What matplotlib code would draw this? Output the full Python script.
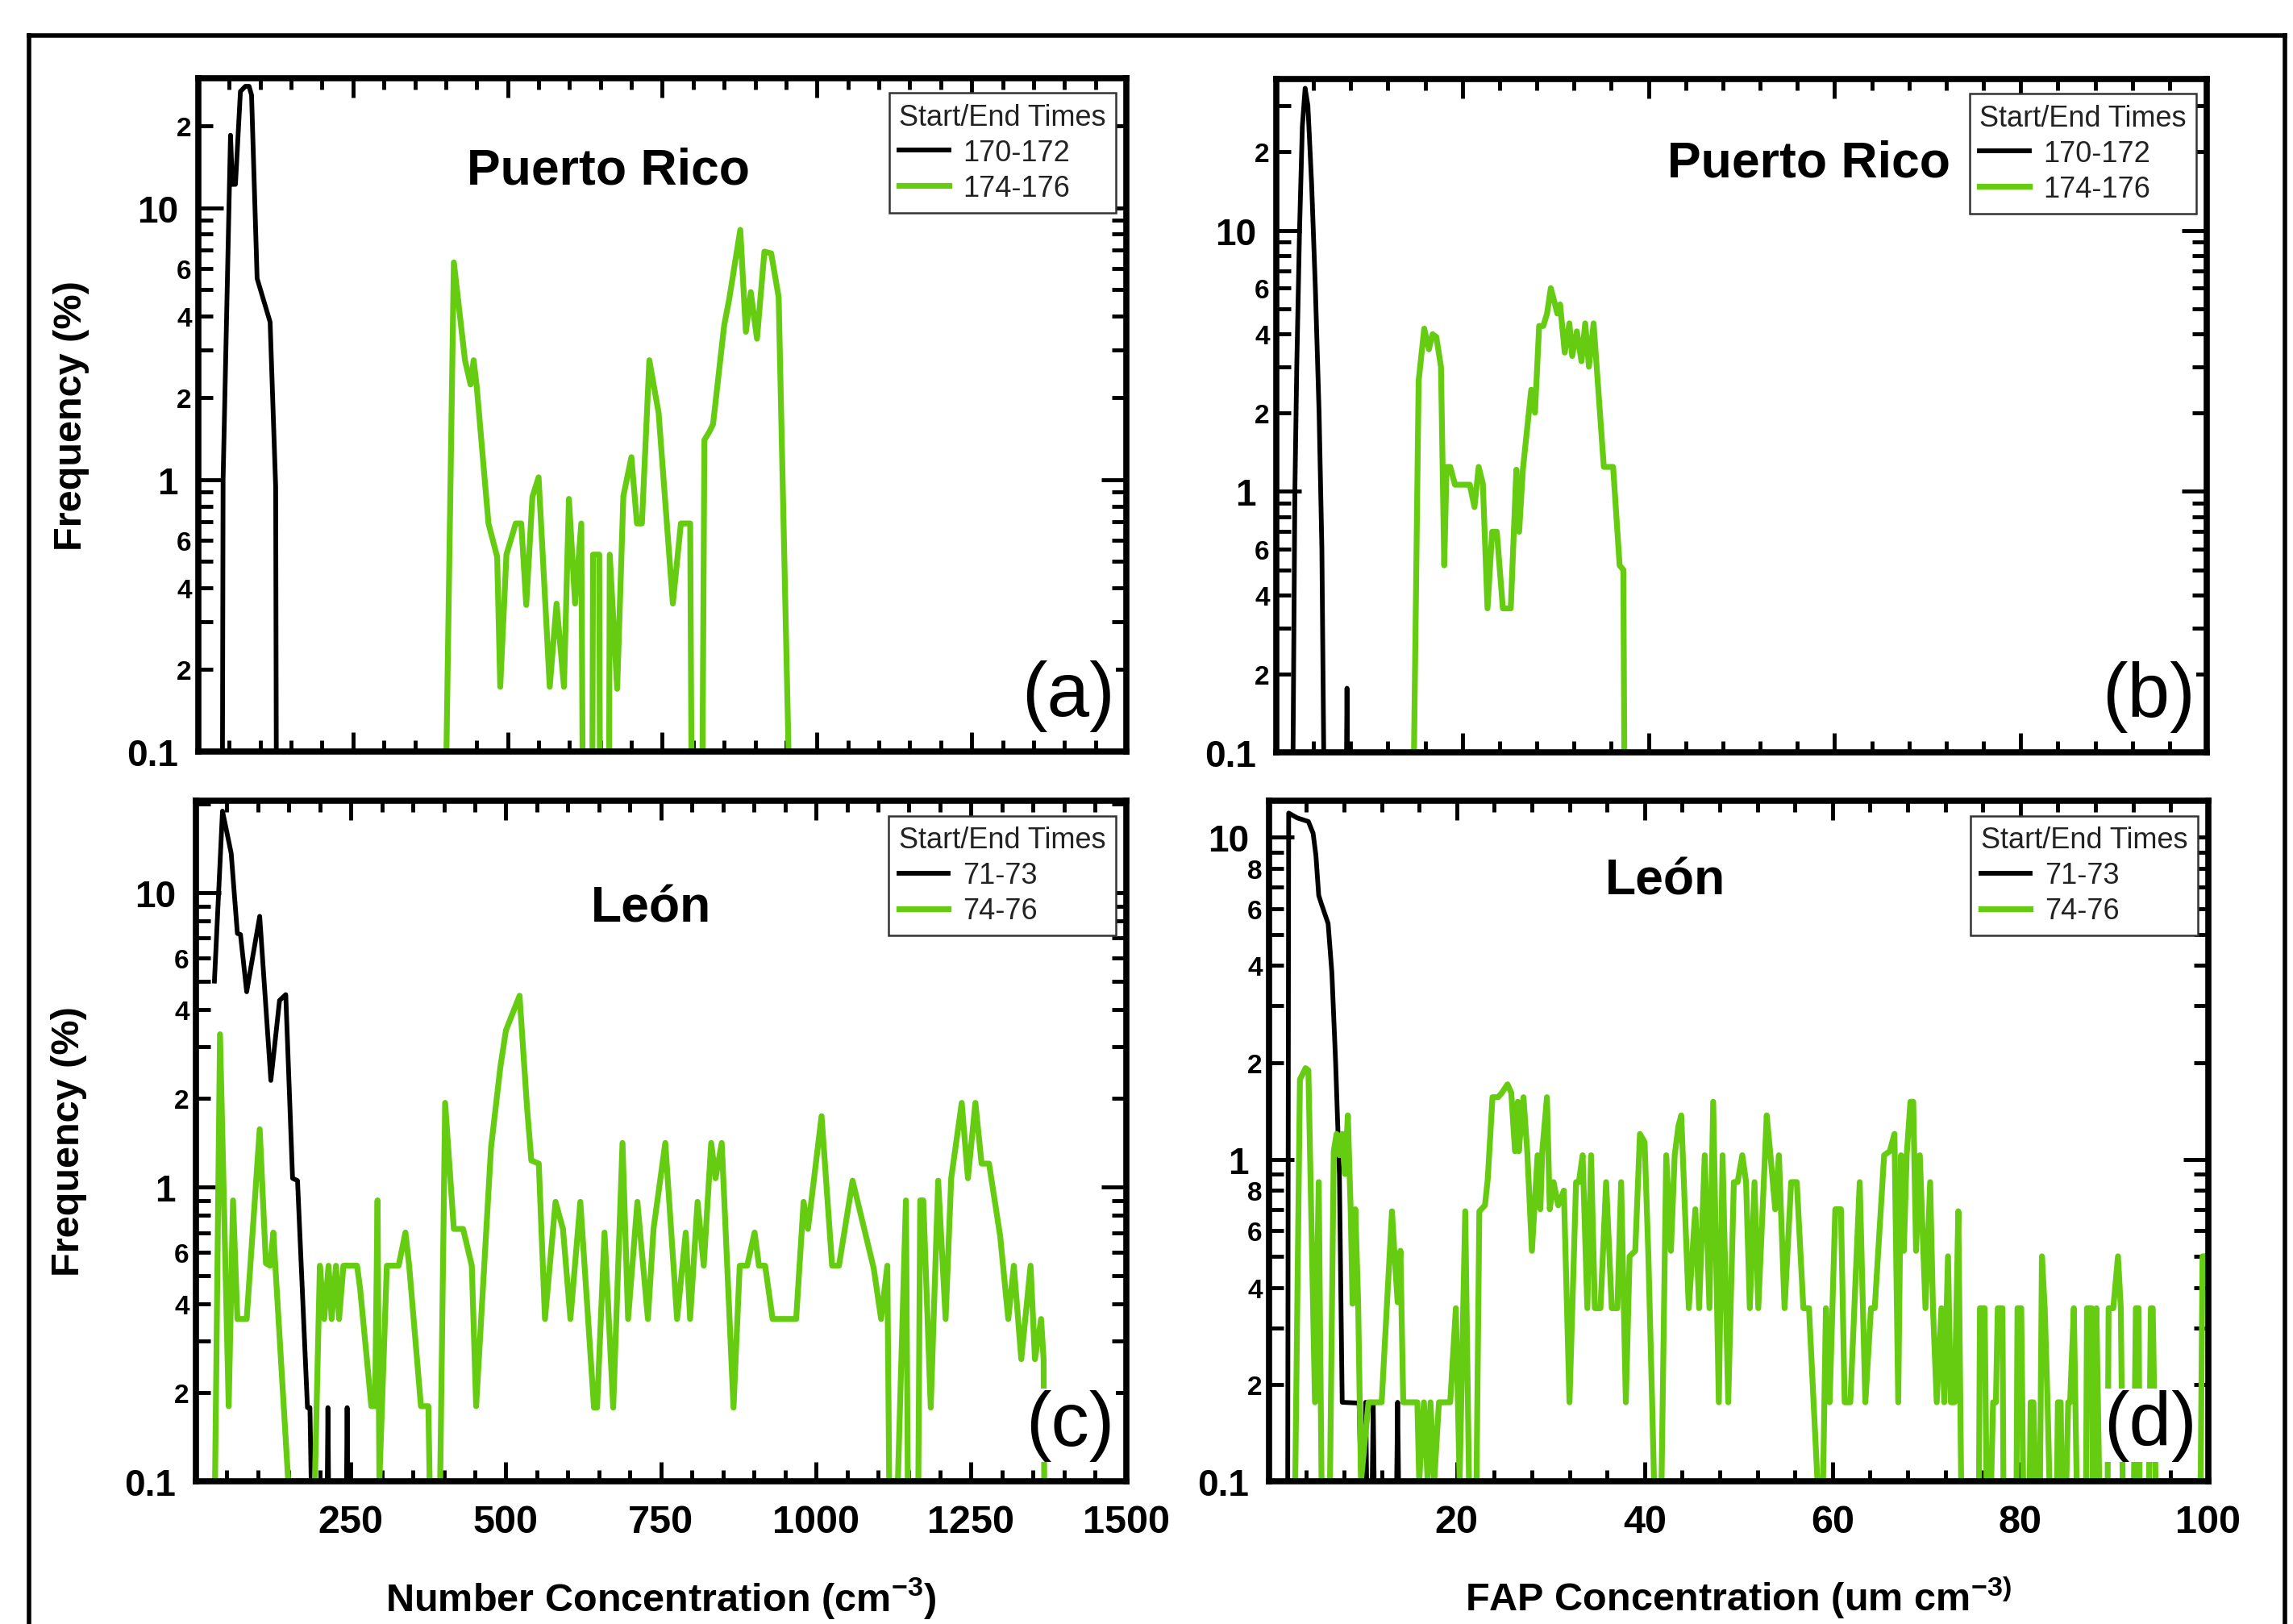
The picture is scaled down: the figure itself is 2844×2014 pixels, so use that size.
import numpy as np
import matplotlib
matplotlib.use('Agg')
from matplotlib import pyplot as plt
from matplotlib import font_manager
from matplotlib.ticker import LogLocator, MultipleLocator, FuncFormatter
from matplotlib.lines import Line2D

names = {f.name for f in font_manager.fontManager.ttflist}
SANS = 'Liberation Sans' if 'Liberation Sans' in names else 'DejaVu Sans'
NARROW = 'Liberation Sans Narrow' if 'Liberation Sans Narrow' in names else SANS

plt.rcParams['font.family'] = SANS
plt.rcParams['font.weight'] = 'bold'
plt.rcParams['mathtext.fontset'] = 'custom'
plt.rcParams['mathtext.rm'] = SANS
plt.rcParams['mathtext.default'] = 'rm'

GREEN = '#66cc11'

# ---- (a) Puerto Rico, number concentration ----
a_blk_x = [39, 40, 52, 55, 60, 68, 76, 82, 86, 95, 116, 125, 126]
a_blk_y = [0.1, 1.0, 18.5, 12.2, 12.2, 26.8, 28, 28, 26, 5.5, 3.8, 0.94, 0.1]
a_grn_x = [401, 413, 431, 440, 445, 450, 469, 483, 488, 498, 513, 522, 530, 540, 550,
           568, 579, 591, 599, 609, 619, 621, 637, 638, 648, 649, 664, 665, 677, 687,
           700, 709, 717, 729, 744, 767, 780, 795, 797, 815, 818, 826, 832, 850, 858,
           876, 885, 893, 903, 915, 926, 938, 954]
a_grn_y = [0.1, 6.3, 2.75, 2.24, 2.75, 2.2, 0.69, 0.52, 0.173, 0.53, 0.69, 0.69, 0.346, 0.865, 1.02,
           0.173, 0.35, 0.173, 0.85, 0.35, 0.69, 0.1, 0.1, 0.53, 0.53, 0.1, 0.1, 0.53, 0.17, 0.87,
           1.21, 0.69, 0.69, 2.75, 1.76, 0.35, 0.69, 0.69, 0.1, 0.1, 1.4, 1.5, 1.6, 3.7, 4.6,
           8.3, 3.5, 4.9, 3.3, 6.9, 6.8, 4.7, 0.1]

# ---- (b) Puerto Rico, FAP concentration ----
b_blk_x = [1.8, 2.0, 2.2, 2.5, 2.8, 3.1, 3.4, 3.8, 4.2, 4.6, 4.9, 5.1, 7.55, 7.6, 7.65]
b_blk_y = [0.1, 1.0, 3.0, 10, 25, 35, 30, 15, 6, 2, 0.6, 0.1, 0.1, 0.176, 0.1]
b_grn_x = [14.8, 15.3, 15.9, 16.4, 16.8, 17.2, 17.7, 18.05, 18.3, 18.7, 19.2, 20.0, 20.8,
           21.3, 21.75, 22.2, 22.7, 23.2, 23.7, 24.35, 25.2, 25.8, 26.1, 26.5, 27.1, 27.4,
           27.8, 28.25, 28.7, 29.1, 29.5, 29.9, 30.2, 30.5, 31.0, 31.5, 31.8, 32.3, 32.8,
           33.2, 33.6, 34.1, 35.2, 36.2, 36.9, 37.3, 37.4]
b_grn_y = [0.1, 2.65, 4.2, 3.5, 4.0, 3.9, 3.0, 0.52, 1.24, 1.24, 1.06, 1.06, 1.06,
           0.87, 1.24, 1.07, 0.356, 0.70, 0.70, 0.356, 0.356, 1.21, 0.7, 1.21, 1.94, 2.45,
           2.0, 4.3, 4.3, 4.8, 6.0, 5.3, 4.8, 5.2, 3.4, 4.4, 3.3, 4.1, 3.15,
           4.4, 3.0, 4.4, 1.24, 1.24, 0.52, 0.5, 0.1]

# ---- (c) Leon, number concentration ----
c_blk_x = [30, 43, 57, 67, 72, 82, 103, 121, 135, 145, 156, 164, 180, 184, 186,
           212, 213, 214, 243, 244, 245]
c_blk_y = [5.0, 18.9, 13.6, 7.26, 7.2, 4.6, 8.3, 2.3, 4.3, 4.5, 1.07, 1.05, 0.178, 0.178, 0.1,
           0.1, 0.178, 0.1, 0.1, 0.178, 0.1]
c_grn_x = [31, 39, 53, 60, 67, 75, 82, 103, 113, 120, 125, 149, 192, 200, 207, 214, 219,
           226, 231, 238, 260, 265, 283, 289, 293, 296, 308, 327, 338, 344, 363, 375, 377,
           394, 402, 416, 431, 445, 452, 476, 491, 500, 522, 534, 541, 553, 563, 580, 592,
           604, 620, 642, 647, 659, 673, 688, 697, 712, 729, 738, 757, 776, 790, 797, 809,
           819, 831, 838, 848, 867, 877, 889, 901, 908, 918, 930, 968, 980, 987, 1009, 1026,
           1037, 1059, 1093, 1105, 1115, 1118, 1132, 1145, 1148, 1165, 1168, 1173, 1185,
           1197, 1209, 1218, 1235, 1245, 1257, 1267, 1279, 1297, 1310, 1319, 1331, 1346,
           1353, 1363, 1367, 1368]
c_grn_y = [0.1, 3.3, 0.18, 0.9, 0.356, 0.356, 0.356, 1.57, 0.55, 0.54, 0.70, 0.1, 0.1, 0.54,
           0.356, 0.54, 0.356, 0.54, 0.356, 0.54, 0.54, 0.45, 0.18, 0.18, 0.9, 0.1, 0.54, 0.54,
           0.7, 0.54, 0.18, 0.18, 0.1, 0.1, 1.93, 0.72, 0.72, 0.54, 0.18, 1.36, 2.55, 3.4,
           4.46, 1.87, 1.23, 1.2, 0.356, 0.89, 0.72, 0.356, 0.89, 0.178, 0.178, 0.7, 0.178,
           1.41, 0.356, 0.89, 0.356, 0.72, 1.41, 0.356, 0.7, 0.356, 0.89, 0.54, 1.41, 1.07,
           1.41, 0.178, 0.54, 0.54, 0.7, 0.54, 0.54, 0.356, 0.356, 0.89, 0.72, 1.74, 0.54,
           0.54, 1.05, 0.53, 0.356, 0.54, 0.1, 0.1, 0.9, 0.1, 0.1, 0.9, 0.9, 0.178,
           1.05, 0.356, 1.07, 1.93, 1.07, 1.93, 1.2, 1.2, 0.68, 0.356, 0.54, 0.26, 0.54,
           0.26, 0.356, 0.26, 0.1]

# ---- (d) Leon, FAP concentration ----
d_blk_x = [2.0, 2.1, 3.0, 4.2, 4.7, 5.0, 5.3, 5.6, 6.3, 6.7, 7.1, 7.5, 7.8, 9.6, 9.8,
           10.2, 10.3, 10.4, 11.0, 11.1, 11.2, 13.6, 13.7, 13.8]
d_blk_y = [0.1, 11.9, 11.5, 11.2, 10.3, 8.8, 6.6, 6.2, 5.4, 3.8, 2.0, 0.9, 0.176, 0.175, 0.1,
           0.1, 0.176, 0.1, 0.1, 0.176, 0.1, 0.1, 0.176, 0.1]
d_grn_x = [2.8, 3.3, 3.9, 4.2, 4.9, 5.3, 5.6, 6.5, 6.9, 7.2, 7.5, 7.8, 8.1, 8.4, 8.7, 8.9,
           9.2, 9.5, 9.8, 10.6, 12.0, 13.1, 13.4, 13.7, 14.0, 14.3, 15.0, 15.8, 16.0, 16.5,
           16.9, 17.2, 17.6, 18.1, 19.3, 19.9, 20.3, 20.9, 21.3, 22.1, 22.4, 23.0, 23.3,
           23.8, 24.4, 24.8, 25.4, 25.8, 26.2, 26.5, 26.6, 27.1, 27.5, 28.0, 28.6, 28.9,
           29.1, 29.6, 29.9, 30.3, 30.8, 31.4, 32.0, 32.7, 33.0, 33.4, 33.9, 34.3, 34.7,
           35.3, 35.9, 36.5, 37.1, 37.5, 38.0, 38.4, 39.0, 39.5, 40.0, 40.4, 40.8, 41.0,
           41.8, 42.3, 42.8, 43.2, 43.6, 43.9, 44.7, 45.4, 45.8, 46.4, 46.9, 47.3, 47.9,
           48.3, 48.9, 49.5, 49.9, 50.4, 50.8, 51.2, 51.7, 52.1, 53.0, 53.4, 53.9, 54.3,
           54.9, 55.6, 56.2, 56.9, 57.5, 58.4, 59.0, 59.3, 59.7, 60.3, 60.9, 61.3, 61.9,
           62.9, 63.5, 64.1, 64.5, 65.5, 66.1, 66.6, 67.0, 67.3, 67.6, 67.9, 68.3, 68.6,
           68.9, 69.3, 69.9, 70.4, 70.7, 71.1, 71.6, 71.9, 72.3, 72.6, 73.0, 73.4, 73.7,
           75.6, 75.7, 76.2, 76.4, 76.9, 77.1, 77.4, 77.6, 78.1, 78.2, 79.6, 79.7, 80.1,
           80.3, 81.0, 81.1, 81.4, 81.6, 82.1, 82.3, 82.6, 82.9, 83.1, 83.9, 84.0, 84.3,
           84.4, 84.9, 85.1, 85.3, 85.7, 86.0, 87.0, 87.1, 87.6, 87.7, 88.0, 88.1, 88.4,
           89.3, 89.4, 89.9, 90.4, 90.7, 90.9, 92.1, 92.3, 92.6, 92.7, 93.7, 93.9, 94.1,
           94.4, 99.2, 99.4, 99.8]
d_grn_y = [0.1, 1.77, 1.92, 1.89, 0.176, 0.85, 0.1, 0.1, 1.06, 1.2, 1.03, 1.2, 0.9, 1.37, 0.70,
           0.356, 0.70, 0.356, 0.1, 0.176, 0.176, 0.69, 0.49, 0.36, 0.52, 0.176, 0.176, 0.176,
           0.1, 0.176, 0.1, 0.176, 0.1, 0.176, 0.176, 0.345, 0.1, 0.69, 0.1, 0.1, 0.69, 0.72,
           0.87, 1.56, 1.56, 1.61, 1.71, 1.61, 1.06, 1.51, 1.06, 1.56, 1.06, 0.52, 1.03, 0.70,
           1.06, 1.56, 0.70, 0.85, 0.72, 0.8, 0.176, 0.85, 0.85, 1.03, 0.345, 1.03, 0.345,
           0.345, 0.85, 0.345, 0.345, 0.85, 0.176, 0.50, 0.52, 1.2, 1.13, 0.50, 0.176, 0.1,
           0.1, 1.03, 0.52, 1.03, 1.27, 1.37, 0.345, 0.70, 0.345, 1.03, 0.345, 1.51, 0.176,
           1.03, 0.176, 0.85, 0.85, 1.03, 0.85, 0.345, 0.85, 0.345, 1.37, 1.03, 0.70, 1.03,
           0.345, 0.85, 0.85, 0.345, 0.345, 0.1, 0.1, 0.345, 0.176, 0.70, 0.70, 0.176, 0.176,
           0.85, 0.176, 0.345, 0.345, 1.03, 1.06, 1.2, 0.176, 1.03, 0.52, 1.03, 1.51, 1.51,
           0.52, 1.03, 0.345, 0.85, 0.345, 0.176, 0.345, 0.176, 0.50, 0.176, 0.176, 0.69, 0.1,
           0.1, 0.345, 0.345, 0.1, 0.1, 0.176, 0.176, 0.345, 0.345, 0.1, 0.1, 0.345, 0.345,
           0.1, 0.1, 0.176, 0.176, 0.1, 0.1, 0.5, 0.345, 0.176, 0.1, 0.1, 0.176, 0.176,
           0.1, 0.1, 0.176, 0.176, 0.345, 0.1, 0.1, 0.345, 0.345, 0.1, 0.1, 0.345, 0.1,
           0.1, 0.345, 0.345, 0.5, 0.345, 0.1, 0.1, 0.345, 0.345, 0.1, 0.1, 0.345, 0.345,
           0.1, 0.1, 0.5, 0.5]

BLK_LW = 4.2
GRN_LW = 5.2


def minor_formatter(shown, top_cut):
    def fmt(v, pos):
        e = np.floor(np.log10(v) + 1e-9)
        m = int(round(v / 10 ** e))
        if m in shown and v < top_cut:
            return str(m)
        return ''
    return FuncFormatter(fmt)


def style(ax, xmax, xmajor, xminor, ymax, shown, top_cut):
    ax.set_yscale('log')
    ax.set_xlim(0, xmax)
    ax.set_ylim(0.1, ymax)
    ax.xaxis.set_major_locator(MultipleLocator(xmajor))
    ax.xaxis.set_minor_locator(MultipleLocator(xminor))
    ax.xaxis.set_major_formatter(FuncFormatter(lambda v, p: '' if v == 0 else '%g' % v))
    ax.yaxis.set_major_locator(LogLocator(base=10, numticks=10))
    ax.yaxis.set_minor_locator(LogLocator(base=10, subs=np.arange(2, 10), numticks=20))
    ax.yaxis.set_major_formatter(FuncFormatter(lambda v, p: '%g' % v))
    ax.yaxis.set_minor_formatter(minor_formatter(shown, top_cut))
    for s in ax.spines.values():
        s.set_linewidth(5.5)
    ax.tick_params(which='both', direction='in', top=True, right=True, width=3.5)
    ax.tick_params(axis='y', which='major', length=22, labelsize=33, pad=18)
    ax.tick_params(axis='y', which='minor', length=13, labelsize=24, pad=6,
                   labelfontfamily=NARROW)
    ax.tick_params(axis='x', which='major', length=17, labelsize=35, pad=20)
    ax.tick_params(axis='x', which='minor', length=10)


def decorate(ax, title, tx, ty, tag):
    leg = ax.legend(title='Start/End Times', loc='upper right', bbox_to_anchor=(0.989, 0.978),
                    borderaxespad=0, fancybox=False, framealpha=1, alignment='left',
                    prop=dict(family=NARROW, weight='normal', size=26),
                    title_fontproperties=dict(family=NARROW, weight='normal', size=26),
                    handlelength=1.7, handletextpad=0.5, labelspacing=0.25, borderpad=0.35)
    leg.get_frame().set_edgecolor('#333333')
    leg.get_frame().set_linewidth(1.8)
    for t in leg.get_texts():
        t.set_color('#222222')
    leg.get_title().set_color('#222222')
    ax.text(tx, ty, title, transform=ax.transAxes, ha='center', va='center',
            fontsize=45, fontweight='bold')
    ax.text(0.988, 0.03, tag, transform=ax.transAxes, ha='right', va='bottom',
            fontsize=68, fontweight='normal', zorder=5,
            bbox=dict(facecolor='white', edgecolor='none', pad=1))


fig = plt.figure(figsize=(28.44, 20.15), dpi=100)
ax_a = fig.add_axes([0.0865, 0.537, 0.4047, 0.4144])
ax_b = fig.add_axes([0.5566, 0.5365, 0.4058, 0.4144])
ax_c = fig.add_axes([0.0854, 0.0878, 0.4057, 0.4189])
ax_d = fig.add_axes([0.5534, 0.0878, 0.4096, 0.4189])

ax_a.plot(a_blk_x, a_blk_y, color='black', lw=BLK_LW, label='170-172')
ax_a.plot(a_grn_x, a_grn_y, color=GREEN, lw=GRN_LW, label='174-176')
style(ax_a, 1500, 250, 50, 30, (2, 4, 6), 25)
ax_a.tick_params(axis='x', labelbottom=False)
decorate(ax_a, 'Puerto Rico', 0.442, 0.863, '(a)')

ax_b.plot(b_blk_x, b_blk_y, color='black', lw=BLK_LW, label='170-172')
ax_b.plot(b_grn_x, b_grn_y, color=GREEN, lw=GRN_LW, label='174-176')
style(ax_b, 100, 20, 4, 38, (2, 4, 6), 30)
ax_b.tick_params(axis='x', labelbottom=False)
decorate(ax_b, 'Puerto Rico', 0.572, 0.875, '(b)')

ax_c.plot(c_blk_x, c_blk_y, color='black', lw=BLK_LW, label='71-73')
ax_c.plot(c_grn_x, c_grn_y, color=GREEN, lw=GRN_LW, label='74-76')
style(ax_c, 1500, 250, 50, 20.5, (2, 4, 6), 15)
decorate(ax_c, 'León', 0.489, 0.843, '(c)')

ax_d.plot(d_blk_x, d_blk_y, color='black', lw=BLK_LW, label='71-73')
ax_d.plot(d_grn_x, d_grn_y, color=GREEN, lw=GRN_LW, label='74-76')
style(ax_d, 100, 20, 4, 13, (2, 4, 6, 8), 15)
decorate(ax_d, 'León', 0.422, 0.883, '(d)')

for ax in (ax_a, ax_c):
    ax.set_ylabel('Frequency (%)', fontsize=35, fontweight='bold')
    ax.yaxis.set_label_coords(-0.117, 0.5)

ax_c.set_xlabel('Number Concentration (cm$^{-3}$)', fontsize=35, fontweight='bold')
ax_d.set_xlabel('FAP Concentration (um cm$^{-3)}$', fontsize=35, fontweight='bold')
for ax in (ax_c, ax_d):
    ax.xaxis.set_label_coords(0.5, -0.19)
    ax.xaxis.label.set_va('baseline')

# outer frame
fig.add_artist(Line2D([0.0127, 0.0127], [0.0, 0.9777], transform=fig.transFigure, color='black', lw=4))
fig.add_artist(Line2D([0.0127, 0.9965], [0.9777, 0.9777], transform=fig.transFigure, color='black', lw=4))
fig.add_artist(Line2D([0.9965, 0.9965], [0.0, 0.9777], transform=fig.transFigure, color='black', lw=4))

fig.savefig('out.png', dpi=100)
